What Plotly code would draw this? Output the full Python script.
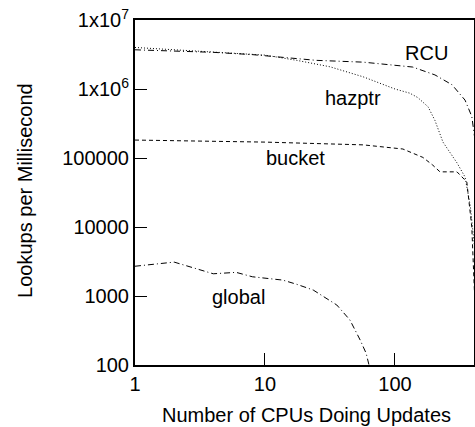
import plotly.graph_objects as go
import math

# ---- data ----
rcu_x = [1, 2, 4, 8, 17, 25, 57, 92, 137, 203, 275, 346, 390, 410]
rcu_y = [3.7e6, 3.55e6, 3.4e6, 3.15e6, 2.8e6, 2.6e6, 2.45e6, 2.25e6, 2.08e6, 1.6e6, 1.15e6, 6.9e5, 4.0e5, 2.0e5]

hazptr_x = [1, 2, 4, 10, 17.6, 31.6, 57, 100, 130, 150, 180, 203, 234, 300, 346, 380, 410]
hazptr_y = [4.0e6, 3.7e6, 3.4e6, 3.1e6, 2.6e6, 2.1e6, 1.5e6, 1.0e6, 8.7e5, 7.5e5, 5.5e5, 3.5e5, 1.7e5, 8.5e4, 5.3e4, 2.0e4, 5e3]

bucket_x = [1, 10, 57, 115, 164, 195, 222, 300, 357, 390, 410]
bucket_y = [1.82e5, 1.7e5, 1.55e5, 1.35e5, 1.02e5, 7.9e4, 6.3e4, 6.3e4, 4.5e4, 1.0e4, 1.0e3]

global_x = [1, 2, 4, 6, 8, 13.7, 17.5, 23.5, 35.7, 45, 54, 60, 64]
global_y = [2700, 3100, 2100, 2200, 1900, 1700, 1480, 1220, 740, 450, 230, 148, 90]

x_tickvals = [1, 10, 100]
x_ticktext = ["1", "10", "100"]
y_tickvals = [100, 1000, 10000, 100000, 1e6, 1e7]
y_ticktext = ["100", "1000", "10000", "100000", "1x10<sup>6</sup>", "1x10<sup>7</sup>"]
x_minor = [m * d for d in (1, 10, 100) for m in range(2, 10) if m * d <= 400]
y_minor = [m * d for d in (100, 1000, 10000, 100000, 1e6) for m in range(2, 10)]

labels = ["RCU", "hazptr", "bucket", "global"]
label_pos = [(176, 3.3e6), (47.5, 7.4e5), (17.3, 1.0e5), (6.2, 970)]

x_title = "Number of CPUs Doing Updates"
y_title = "Lookups per Millisecond"

FONT = "Liberation Sans, Arial, Helvetica, sans-serif"
FS = 20
X_RANGE = [0, 2.608]
Y_RANGE = [2, 7]
PLOT_W = 339.0   # plot-area width in px (475 - 135 - 1)
PLOT_H = 345.0   # plot-area height in px (427 - 20 - 62)
MAJOR_LEN = 12
MINOR_LEN = 7

fig = go.Figure()
series = [
    (rcu_x, rcu_y, "6px,3px,1px,3px"),
    (hazptr_x, hazptr_y, "1px,2px"),
    (bucket_x, bucket_y, "4px,3px"),
    (global_x, global_y, "6px,3px,1px,3px"),
]
for (xs, ys, dash), name in zip(series, labels):
    fig.add_trace(go.Scatter(x=xs, y=ys, mode="lines", name=name,
                             line=dict(color="black", width=1, dash=dash),
                             showlegend=False, cliponaxis=True))

for name, (lx, ly) in zip(labels, label_pos):
    fig.add_annotation(x=math.log10(lx), y=math.log10(ly), text=name,
                       showarrow=False, font=dict(size=FS, color="black", family=FONT))

# axis titles
fig.add_annotation(xref="paper", yref="paper", x=0.507, y=-0.145, text=x_title,
                   showarrow=False, xanchor="center", yanchor="middle",
                   font=dict(size=FS, color="black", family=FONT))
fig.add_annotation(xref="paper", yref="paper", x=-0.325, y=0.507, text=y_title,
                   showarrow=False, xanchor="center", yanchor="middle", textangle=-90,
                   font=dict(size=FS, color="black", family=FONT))

# main axes: frame + tick labels
axis_common = dict(
    type="log", showgrid=False, zeroline=False, showline=True, linecolor="black",
    linewidth=2, mirror=True, ticks="inside", ticklen=MAJOR_LEN, tickwidth=1,
    tickcolor="#000000", tickfont=dict(size=FS, color="black", family=FONT),
    automargin=False,
)
layout_axes = dict(
    xaxis=dict(range=X_RANGE, tickmode="array", tickvals=x_tickvals, ticktext=x_ticktext,
               **axis_common),
    yaxis=dict(range=Y_RANGE, tickmode="array", tickvals=y_tickvals, ticktext=y_ticktext,
               **axis_common),
)

# tick-only overlay axes: outward ticks placed just inside the frame so that they
# appear as inward-pointing ticks on all four sides (major and minor)
def tick_axis(rng, vals, length, side, position, overlay):
    return dict(type="log", range=rng, overlaying=overlay, anchor="free",
                position=position, side=side, tickmode="array", tickvals=vals,
                ticks="outside", ticklen=length, tickwidth=1, tickcolor="#000000",
                showticklabels=False, showline=False, showgrid=False, zeroline=False,
                automargin=False, fixedrange=True)

specs_x = [
    (x_tickvals, MAJOR_LEN, "bottom", MAJOR_LEN / PLOT_H),
    (x_minor, MINOR_LEN, "bottom", MINOR_LEN / PLOT_H),
    (x_tickvals, MAJOR_LEN, "top", 1 - MAJOR_LEN / PLOT_H),
    (x_minor, MINOR_LEN, "top", 1 - MINOR_LEN / PLOT_H),
]
specs_y = [
    (y_tickvals, MAJOR_LEN, "left", MAJOR_LEN / PLOT_W),
    (y_minor, MINOR_LEN, "left", MINOR_LEN / PLOT_W),
    (y_tickvals, MAJOR_LEN, "right", 1 - MAJOR_LEN / PLOT_W),
    (y_minor, MINOR_LEN, "right", 1 - MINOR_LEN / PLOT_W),
]
for i, (vals, ln, side, pos) in enumerate(specs_x, start=2):
    layout_axes[f"xaxis{i}"] = tick_axis(X_RANGE, vals, ln, side, pos, "x")
for i, (vals, ln, side, pos) in enumerate(specs_y, start=2):
    layout_axes[f"yaxis{i}"] = tick_axis(Y_RANGE, vals, ln, side, pos, "y")

fig.update_layout(**layout_axes)

fig.update_layout(width=475, height=427, margin=dict(l=135, r=1, t=20, b=62, autoexpand=False),
                  plot_bgcolor="white", paper_bgcolor="white",
                  font=dict(family=FONT, color="black"))

fig.write_html("out.html", config={"displayModeBar": False})

# remove the browser's default page margin so the figure sits at the top-left corner
with open("out.html", encoding="utf-8") as f:
    html = f.read()
html = html.replace("<head>", "<head><style>html,body{margin:0;padding:0;}</style>", 1)
with open("out.html", "w", encoding="utf-8") as f:
    f.write(html)
